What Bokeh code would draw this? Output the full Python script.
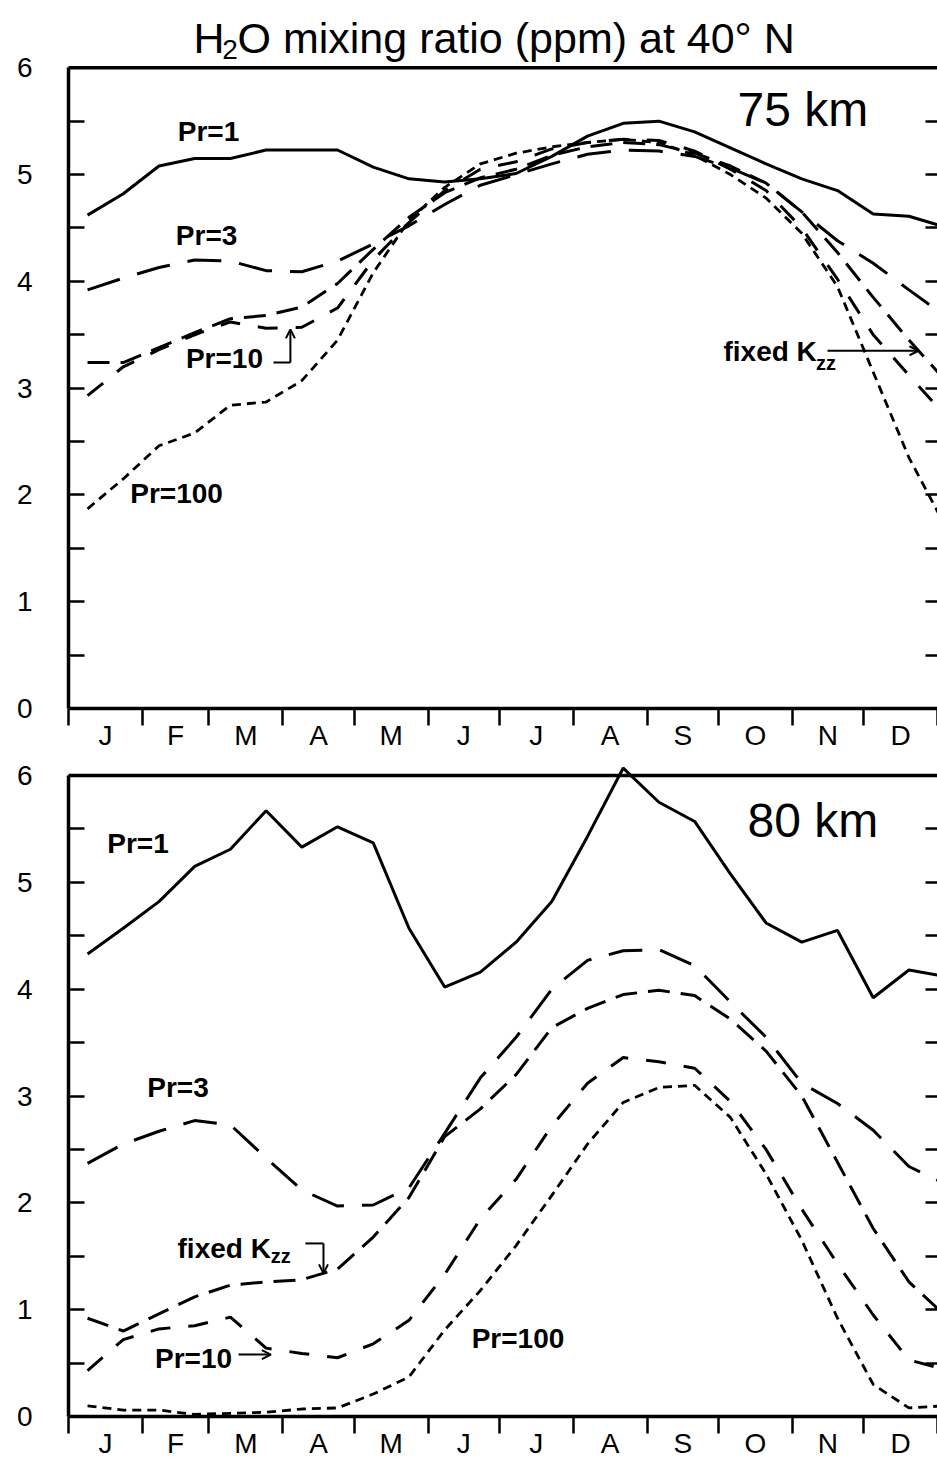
from bokeh.plotting import figure
from bokeh.models import Range1d, LinearAxis, FixedTicker, Span, Label, Arrow, OpenHead
from bokeh.layouts import column
from bokeh.embed import file_html
from bokeh.resources import INLINE

# ---------------- data ----------------
month_labels = ["J", "F", "M", "A", "M", "J", "J", "A", "S", "O", "N", "D"]
month_edges = [0, 31, 59, 90, 120, 151, 181, 212, 243, 273, 304, 334, 365]
y_ticks = [0, 1, 2, 3, 4, 5, 6]
y_minor = [0.5, 1.5, 2.5, 3.5, 4.5, 5.5]

# day of year of each model output (every ~15 days)
days = [8, 23, 38, 53, 68, 83, 98, 113, 128, 143, 158, 173, 188,
        203, 218, 233, 248, 263, 278, 293, 308, 323, 338, 353, 368]

# 75 km
pr1_75 = [4.62, 4.82, 5.08, 5.15, 5.15, 5.23, 5.23, 5.23, 5.07, 4.96, 4.93, 4.96, 5.01,
          5.17, 5.36, 5.48, 5.50, 5.40, 5.25, 5.10, 4.96, 4.85, 4.63, 4.61, 4.51]
pr3_75 = [3.92, 4.03, 4.13, 4.20, 4.19, 4.10, 4.09, 4.19, 4.35, 4.52, 4.72, 4.90, 5.00,
          5.10, 5.19, 5.23, 5.22, 5.17, 5.06, 4.92, 4.65, 4.38, 4.17, 3.92, 3.68]
kzz_75 = [3.24, 3.24, 3.38, 3.52, 3.65, 3.68, 3.76, 3.98, 4.30, 4.60, 4.83, 4.97, 5.05,
          5.18, 5.26, 5.30, 5.28, 5.20, 5.08, 4.92, 4.65, 4.27, 3.85, 3.45, 3.08]
pr10_75 = [2.93, 3.20, 3.36, 3.50, 3.62, 3.56, 3.57, 3.75, 4.20, 4.55, 4.85, 5.05, 5.12,
           5.24, 5.30, 5.33, 5.32, 5.22, 5.05, 4.85, 4.50, 4.02, 3.50, 3.12, 2.75]
pr100_75 = [1.87, 2.15, 2.46, 2.58, 2.84, 2.87, 3.07, 3.45, 4.08, 4.57, 4.88, 5.10, 5.20,
            5.26, 5.30, 5.33, 5.30, 5.18, 5.00, 4.78, 4.45, 3.95, 3.15, 2.35, 1.72]

# 80 km
pr1_80 = [4.33, 4.57, 4.82, 5.15, 5.31, 5.67, 5.33, 5.52, 5.37, 4.57, 4.02, 4.16, 4.44,
          4.82, 5.43, 6.07, 5.75, 5.57, 5.08, 4.62, 4.44, 4.55, 3.92, 4.18, 4.12]
pr3_80 = [2.37, 2.55, 2.67, 2.77, 2.73, 2.42, 2.12, 1.97, 1.98, 2.14, 2.65, 3.17, 3.55,
          4.00, 4.27, 4.36, 4.37, 4.22, 3.88, 3.55, 3.12, 2.93, 2.68, 2.34, 2.18]
kzz_80 = [0.92, 0.80, 0.96, 1.12, 1.23, 1.26, 1.28, 1.38, 1.68, 2.05, 2.62, 2.88, 3.20,
          3.64, 3.82, 3.95, 3.99, 3.94, 3.72, 3.42, 3.00, 2.38, 1.76, 1.26, 0.95]
pr10_80 = [0.43, 0.72, 0.82, 0.85, 0.93, 0.64, 0.59, 0.55, 0.68, 0.90, 1.33, 1.85, 2.22,
           2.72, 3.12, 3.36, 3.32, 3.26, 2.95, 2.50, 1.94, 1.43, 0.95, 0.53, 0.44]
pr100_80 = [0.10, 0.06, 0.06, 0.02, 0.03, 0.04, 0.07, 0.08, 0.21, 0.37, 0.81, 1.18, 1.60,
            2.07, 2.55, 2.94, 3.08, 3.10, 2.80, 2.27, 1.65, 0.92, 0.30, 0.08, 0.10]

FONT = "Liberation Sans"
month_mid = [(month_edges[i] + month_edges[i + 1]) / 2 for i in range(12)]


def make_panel(height, y_end, b_bottom):
    p = figure(width=937, height=height, x_range=Range1d(0, 365), y_range=Range1d(0, y_end),
               output_backend="svg", toolbar_location=None,
               x_axis_type=None, y_axis_type=None,
               min_border_left=68, min_border_right=0,
               min_border_top=0, min_border_bottom=b_bottom)
    p.outline_line_color = None
    p.background_fill_color = "white"
    p.border_fill_color = "white"

    xa = LinearAxis(ticker=FixedTicker(ticks=month_mid, minor_ticks=month_edges))
    xa.major_label_overrides = {m: lab for m, lab in zip(month_mid, month_labels)}
    xa.major_tick_out = 0
    xa.major_tick_in = 0
    xa.minor_tick_out = 17
    xa.minor_tick_in = 0
    xa.minor_tick_line_width = 2.5
    xa.axis_line_width = 3.5
    xa.major_label_standoff = -6
    xa.major_label_text_font = FONT
    xa.major_label_text_font_size = "28px"
    xa.major_label_text_color = "black"
    p.add_layout(xa, "below")

    ya = LinearAxis(ticker=FixedTicker(ticks=y_ticks, minor_ticks=y_minor), bounds=(0, 6))
    ya.major_tick_in = 16
    ya.major_tick_out = 0
    ya.minor_tick_in = 16
    ya.minor_tick_out = 0
    ya.major_tick_line_width = 2.5
    ya.minor_tick_line_width = 2.5
    ya.axis_line_width = 3.5
    ya.major_label_standoff = 36
    ya.major_label_text_font = FONT
    ya.major_label_text_font_size = "28px"
    ya.major_label_text_color = "black"
    p.add_layout(ya, "left")

    yr = LinearAxis(ticker=FixedTicker(ticks=y_ticks + y_minor), bounds=(0, 6))
    yr.major_label_overrides = {t: "" for t in y_ticks + y_minor}
    yr.major_tick_in = 12
    yr.major_tick_out = 0
    yr.major_tick_line_width = 2.5
    yr.axis_line_color = None
    yr.major_label_standoff = 0
    yr.major_label_text_font_size = "1px"
    p.add_layout(yr, "right")

    p.add_layout(Span(location=6, dimension="width", line_color="black", line_width=3.5))
    return p


def add_series(p, s1, s3, sk, s10, s100):
    p.line(days, s1, line_color="black", line_width=3)
    p.line(days, s3, line_color="black", line_width=3, line_dash="34 18")
    p.line(days, sk, line_color="black", line_width=3, line_dash="22 11")
    p.line(days, s10, line_color="black", line_width=3, line_dash="20 18")
    p.line(days, s100, line_color="black", line_width=2.8, line_dash="9 6")


def lab(p, x, y, text, size="28px", bold=True, align="center"):
    p.add_layout(Label(x=x, y=y, text=text, text_font=FONT, text_font_size=size,
                       text_font_style="bold" if bold else "normal", text_color="black",
                       text_align=align, text_baseline="middle"))


def arrow(p, x0, y0, x1, y1, head=True):
    p.add_layout(Arrow(x_start=x0, y_start=y0, x_end=x1, y_end=y1, line_width=2,
                       line_color="black",
                       end=OpenHead(size=9, line_width=2) if head else None))


# ---------------- top panel: 75 km ----------------
top = make_panel(759, 6.63, 51)
add_series(top, pr1_75, pr3_75, kzz_75, pr10_75, pr100_75)

# title (inside the frame, above the y=6 border)
lab(top, 52.5, 6.28, "H", size="43px", bold=False, align="left")
lab(top, 64.6, 6.17, "2", size="28px", bold=False, align="left")
lab(top, 71.0, 6.28, "O mixing ratio (ppm) at 40\u00b0 N", size="43px", bold=False,
    align="left")

lab(top, 281, 5.61, "75 km", size="48px", bold=False, align="left")
lab(top, 58.8, 5.40, "Pr=1")
lab(top, 58.0, 4.43, "Pr=3")
lab(top, 65.5, 3.28, "Pr=10")
lab(top, 45.4, 2.01, "Pr=100")
arrow(top, 86.1, 3.24, 93.2, 3.24, head=False)
arrow(top, 93.2, 3.24, 93.2, 3.55)
lab(top, 275.1, 3.34, "fixed K", align="left")
lab(top, 314.0, 3.24, "zz", size="20px", align="left")
arrow(top, 318.8, 3.35, 357.0, 3.35)

# ---------------- bottom panel: 80 km ----------------
bot = make_panel(703, 6.15, 46)
add_series(bot, pr1_80, pr3_80, kzz_80, pr10_80, pr100_80)

lab(bot, 285.2, 5.58, "80 km", size="48px", bold=False, align="left")
lab(bot, 29.2, 5.36, "Pr=1")
lab(bot, 46.0, 3.08, "Pr=3")
lab(bot, 45.8, 1.57, "fixed K", align="left")
lab(bot, 85.0, 1.50, "zz", size="20px", align="left")
arrow(bot, 99.5, 1.62, 107.1, 1.62, head=False)
arrow(bot, 107.1, 1.62, 107.1, 1.34)
lab(bot, 52.5, 0.54, "Pr=10")
arrow(bot, 71.4, 0.58, 85.0, 0.58)
lab(bot, 188.8, 0.73, "Pr=100")

layout = column(top, bot, spacing=0)
open("out.html", "w").write(file_html(layout, INLINE))
